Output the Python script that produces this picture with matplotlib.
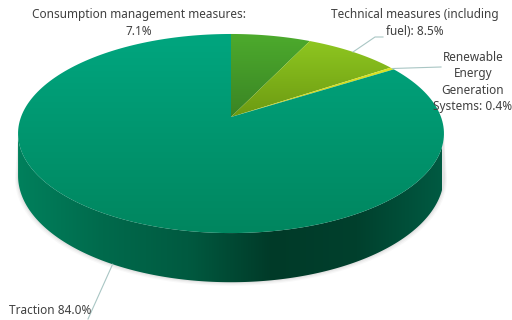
import numpy as np
import matplotlib
matplotlib.use("Agg")
import matplotlib.pyplot as plt
from matplotlib.patches import Polygon
from matplotlib.colors import LinearSegmentedColormap

# Shares of the energy saving potential
names = ["Consumption management measures", "Technical measures (including fuel)",
         "Renewable Energy Generation Systems", "Traction"]
values = [7.1, 8.5, 0.4, 84.0]
label_fmt = ["Consumption management measures:\n{:.1f}%",
             "Technical measures (including\nfuel): {:.1f}%",
             "Renewable\nEnergy\nGeneration\nSystems: {:.1f}%",
             "Traction {:.1f}%"]

# top colour (far edge) -> colour near the centre / front edge
top_colors = [("#4dab2d", "#3a8424"), ("#8ec620", "#6c9a12"),
              ("#dbe424", "#c8d21a"), ("#00a67f", "#00865f")]
side_colors = ["#00805c", "#006a4c", "#005a40", "#003a28", "#00402d", "#005a42"]

# projection of the tilted disc
CX, CY = 231, 117      # apex of the slices
A, B = 210, 96.8       # horizontal / vertical radius factors
K = -0.166             # perspective foreshortening
D = 41                 # thickness of the disc


def project(t, depth=0.0):
    u = np.sin(t)
    v = -np.cos(t)
    w = 1 + K * v
    return CX + A * u / w, CY + B * v / w + depth / w


def arc(t0, t1, depth=0.0, n=200):
    t = np.linspace(t0, t1, n)
    x, y = project(t, depth)
    return np.column_stack([x, y])


def gradient_fill(ax, verts, c0, c1, y0, y1, horizontal=None):
    patch = Polygon(verts, closed=True, facecolor="none", edgecolor="none")
    ax.add_patch(patch)
    if horizontal is None:
        cmap = LinearSegmentedColormap.from_list("g", [c0, c1])
        grad = np.linspace(0, 1, 256).reshape(-1, 1)
        ext = [0, 512, y1, y0]
    else:
        cmap = LinearSegmentedColormap.from_list("g", horizontal)
        grad = np.linspace(0, 1, 256).reshape(1, -1)
        ext = [y0, y1, 320, 0]
    im = ax.imshow(grad, extent=ext, cmap=cmap, aspect="auto",
                   interpolation="bilinear", zorder=2)
    im.set_clip_path(patch)
    return im


fig = plt.figure(figsize=(5.12, 3.2), dpi=100)
ax = fig.add_axes([0, 0, 1, 1])
ax.set_xlim(0, 512)
ax.set_ylim(320, 0)
ax.axis("off")

# soft shadow under the disc
t_r = np.arccos(K)
t_l = 2 * np.pi - t_r
for i, a in enumerate([0.05, 0.07, 0.1]):
    grow = 3 - i
    pts = arc(t_r - 0.05, t_l + 0.05, D + grow)
    pts[:, 0] = CX + (pts[:, 0] - CX) * (1 + grow / 210)
    top = arc(t_l, t_r, 0)
    ax.add_patch(Polygon(np.vstack([pts, top]), closed=True,
                         facecolor="#808080", alpha=a, edgecolor="none", zorder=1))

# side wall (front half only)
side = np.vstack([arc(t_r, t_l, 0), arc(t_l, t_r, D)])
gradient_fill(ax, side, None, None, 18, 442, horizontal=side_colors)

# top face slices
fracs = np.array(values) / np.sum(values)
edges = np.concatenate([[0], np.cumsum(fracs)]) * 2 * np.pi
for i in range(len(values)):
    verts = np.vstack([[[CX, CY]], arc(edges[i], edges[i + 1])])
    y_far = verts[:, 1].min()
    y_near = verts[:, 1].max()
    gradient_fill(ax, verts, top_colors[i][0], top_colors[i][1], y_far, y_near)

# labels and leader lines
txt = dict(fontsize=8.5, color="#404040", family="Noto Sans", zorder=5,
           linespacing=1.35)
lead = dict(color="#a9c6c4", lw=0.8, zorder=4)
mid = (edges[:-1] + edges[1:]) / 2

ax.text(139, 23, label_fmt[0].format(values[0]), ha="center", va="center",
        multialignment="center", **txt)

x1, y1 = project(mid[1])
ax.plot([x1, 375, 383], [y1, 37, 37], **lead)
ax.text(415, 23, label_fmt[1].format(values[1]), ha="center", va="center",
        multialignment="center", **txt)

x2, y2 = project(mid[2])
ax.plot([x2, 441], [y2, 67], **lead)
ax.text(473, 82, label_fmt[2].format(values[2]), ha="center", va="center",
        multialignment="center", **txt)

x3, y3 = project(mid[3], D)
ax.plot([x3, 88], [y3, 319], **lead)
ax.text(9, 311, label_fmt[3].format(values[3]), ha="left", va="center", **txt)

fig.savefig("out.png", dpi=100)
